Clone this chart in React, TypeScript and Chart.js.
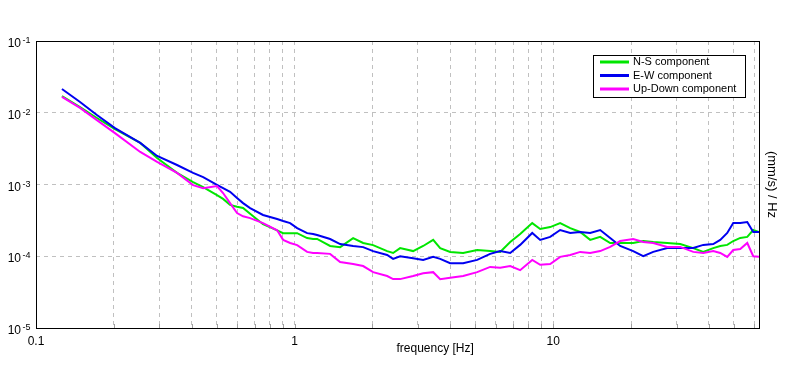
import React, { useEffect, useRef } from 'react';
import { Chart, registerables } from 'chart.js';

Chart.register(...registerables);

const FONT = "'Liberation Sans', Arial, sans-serif";

// Frequencies [Hz] at which the spectra were read
const frequencies = [
  0.126, 0.148, 0.172, 0.202, 0.253, 0.294, 0.351, 0.405, 0.443, 0.501,
  0.529, 0.563, 0.599, 0.632, 0.673, 0.755, 0.856, 0.903, 0.961, 1.023,
  1.118, 1.179, 1.222, 1.372, 1.5, 1.684, 1.841, 2.012, 2.28, 2.404,
  2.559, 2.873, 3.142, 3.435, 3.656, 3.996, 4.485, 5.082, 5.705, 6.237,
  6.82, 7.452, 8.297, 8.907, 9.736, 10.64, 11.64, 12.72, 13.9, 15.2,
  16.61, 18.16, 20.39, 22.29, 24.37, 27.61, 30.99, 34.81, 38.05, 41.59,
  44.26, 47.1, 49.69, 52.89, 56.3, 59.38, 62.5,
];

const nsComponent = [
  1.71e-2, 1.2e-2, 8.45e-3, 5.9e-3, 3.8e-3, 2.34e-3, 1.45e-3, 1.08e-3, 9.2e-4, 7.1e-4,
  6.3e-4, 5.2e-4, 4.9e-4, 4.7e-4, 3.9e-4, 2.8e-4, 2.3e-4, 2.1e-4, 2.1e-4, 2.1e-4,
  1.79e-4, 1.74e-4, 1.74e-4, 1.39e-4, 1.34e-4, 1.79e-4, 1.53e-4, 1.43e-4, 1.18e-4, 1.11e-4,
  1.3e-4, 1.18e-4, 1.39e-4, 1.69e-4, 1.3e-4, 1.15e-4, 1.11e-4, 1.22e-4, 1.18e-4, 1.15e-4,
  1.58e-4, 2.04e-4, 2.9e-4, 2.4e-4, 2.55e-4, 2.9e-4, 2.47e-4, 2.18e-4, 1.69e-4, 1.86e-4,
  1.53e-4, 1.53e-4, 1.53e-4, 1.63e-4, 1.58e-4, 1.53e-4, 1.48e-4, 1.3e-4, 1.15e-4, 1.3e-4,
  1.39e-4, 1.44e-4, 1.63e-4, 1.8e-4, 1.86e-4, 2.32e-4, 2.18e-4,
];

const ewComponent = [
  2.14e-2, 1.41e-2, 9.3e-3, 6.1e-3, 3.8e-3, 2.5e-3, 1.87e-3, 1.45e-3, 1.27e-3, 9.9e-4,
  8.9e-4, 7.9e-4, 6.5e-4, 5.5e-4, 4.7e-4, 3.76e-4, 3.3e-4, 3.1e-4, 2.9e-4, 2.47e-4,
  2.1e-4, 2.04e-4, 1.98e-4, 1.74e-4, 1.48e-4, 1.39e-4, 1.34e-4, 1.18e-4, 1.04e-4, 9.2e-5,
  1.0e-4, 9.4e-5, 8.9e-5, 9.8e-5, 9.2e-5, 8.0e-5, 8.0e-5, 8.9e-5, 1.08e-4, 1.18e-4,
  1.11e-4, 1.44e-4, 2.11e-4, 1.69e-4, 1.86e-4, 2.32e-4, 2.11e-4, 2.18e-4, 2.11e-4, 2.32e-4,
  1.8e-4, 1.39e-4, 1.18e-4, 1.0e-4, 1.15e-4, 1.3e-4, 1.3e-4, 1.3e-4, 1.44e-4, 1.48e-4,
  1.69e-4, 2.11e-4, 2.91e-4, 2.91e-4, 3.0e-4, 2.18e-4, 2.18e-4,
];

const udComponent = [
  1.66e-2, 1.17e-2, 7.9e-3, 5.2e-3, 2.84e-3, 2.06e-3, 1.45e-3, 9.8e-4, 8.9e-4, 9.5e-4,
  7.6e-4, 5.5e-4, 4.0e-4, 3.6e-4, 3.4e-4, 2.9e-4, 2.3e-4, 1.69e-4, 1.53e-4, 1.43e-4,
  1.15e-4, 1.11e-4, 1.11e-4, 1.08e-4, 8.3e-5, 7.8e-5, 7.3e-5, 6.0e-5, 5.3e-5, 4.8e-5,
  4.8e-5, 5.3e-5, 5.8e-5, 6.0e-5, 4.8e-5, 5.0e-5, 5.3e-5, 6.0e-5, 7.1e-5, 6.9e-5,
  7.3e-5, 6.4e-5, 8.9e-5, 7.6e-5, 7.8e-5, 9.8e-5, 1.04e-4, 1.15e-4, 1.11e-4, 1.18e-4,
  1.35e-4, 1.63e-4, 1.74e-4, 1.58e-4, 1.53e-4, 1.35e-4, 1.35e-4, 1.15e-4, 1.11e-4, 1.18e-4,
  1.11e-4, 9.8e-5, 1.22e-4, 1.26e-4, 1.53e-4, 1.0e-4, 9.8e-5,
];

const seriesLabels = ['N-S component', 'E-W component', 'Up-Down component'];
const seriesColors = ['#00e600', '#0000f0', '#ff00ff'];

const xTickValues = [
  0.1, 0.2, 0.3, 0.4, 0.5, 0.6, 0.7, 0.8, 0.9,
  1, 2, 3, 4, 5, 6, 7, 8, 9,
  10, 20, 30, 40, 50, 60,
];
const xMajorTicks = [0.1, 1, 10];
const xMajorLabels = ['0.1', '1', '10'];

const yTickValues = [1e-5, 1e-4, 1e-3, 1e-2, 1e-1];
const yTickBase = '10';
const yTickExponents = ['-5', '-4', '-3', '-2', '-1'];

const xTitle = 'frequency [Hz]';
const yTitle = '(mm/s) / Hz';

const decorPlugin = {
  id: 'decor',
  afterDraw(chart: any) {
    const { ctx, chartArea } = chart;
    const { left, top, right, bottom } = chartArea;
    ctx.save();
    ctx.setLineDash([]);

    // small inner tick marks along the bottom axis
    const xs = chart.scales.x;
    ctx.strokeStyle = '#a0a0a0';
    ctx.lineWidth = 1;
    xTickValues.forEach((v) => {
      if (v === xTickValues[0]) return;
      const px = Math.round(xs.getPixelForValue(v)) + 0.5;
      ctx.beginPath();
      ctx.moveTo(px, bottom - 4);
      ctx.lineTo(px, bottom);
      ctx.stroke();
    });

    // frame
    ctx.strokeStyle = '#000';
    ctx.lineWidth = 1;
    ctx.strokeRect(left + 0.5, top + 0.5, right - left, bottom - top);

    // y tick labels: 10 with superscript exponent
    const ys = chart.scales.y;
    ctx.fillStyle = '#000';
    ctx.textBaseline = 'alphabetic';
    yTickValues.forEach((v, i) => {
      const py = ys.getPixelForValue(v);
      ctx.font = `12px ${FONT}`;
      ctx.textAlign = 'right';
      ctx.fillText(yTickBase, 21, py + 6);
      ctx.font = `9px ${FONT}`;
      ctx.textAlign = 'left';
      ctx.fillText(yTickExponents[i], 22.5, py + 2);
    });

    // x title
    ctx.font = `12px ${FONT}`;
    ctx.textAlign = 'left';
    ctx.textBaseline = 'middle';
    ctx.fillText(xTitle, (left + right) / 2 - 1, 349);

    // legend box
    const bx = 593.5, by = 55.5, bw = 152, bh = 42;
    ctx.fillStyle = '#fff';
    ctx.fillRect(bx, by, bw, bh);
    ctx.strokeStyle = '#000';
    ctx.strokeRect(bx, by, bw, bh);
    ctx.font = `11px ${FONT}`;
    chart.data.datasets.forEach((ds: any, i: number) => {
      const y = 62 + i * 13.5;
      ctx.strokeStyle = ds.borderColor;
      ctx.lineWidth = 3;
      ctx.beginPath();
      ctx.moveTo(600, y);
      ctx.lineTo(629, y);
      ctx.stroke();
      ctx.fillStyle = '#000';
      ctx.fillText(ds.label, 633, y);
    });
    ctx.restore();
  },
};

export default function App() {
  const canvasRef = useRef<HTMLCanvasElement | null>(null);

  useEffect(() => {
    const canvas = canvasRef.current;
    if (!canvas) return;
    Chart.defaults.font.family = FONT;
    const series = [nsComponent, ewComponent, udComponent];
    const chart = new Chart(canvas, {
      type: 'line',
      data: {
        datasets: series.map((vals, i) => ({
          label: seriesLabels[i],
          data: frequencies.map((f, j) => ({ x: f, y: vals[j] })),
          borderColor: seriesColors[i],
          backgroundColor: seriesColors[i],
          borderWidth: 2,
          pointRadius: 0,
          fill: false,
          tension: 0,
          order: 2 - i,
        })),
      },
      options: {
        animation: false,
        responsive: false,
        events: [],
        layout: { padding: { top: 41, left: 0, right: 0, bottom: 0 } },
        plugins: {
          legend: { display: false },
          tooltip: { enabled: false },
        },
        scales: {
          x: {
            type: 'logarithmic',
            position: 'bottom',
            min: 0.1,
            max: 62.5,
            afterBuildTicks: (s: any) => {
              s.ticks = xTickValues.map((v) => ({ value: v }));
            },
            afterFit: (s: any) => {
              s.height = 42;
            },
            ticks: {
              autoSkip: false,
              maxRotation: 0,
              minRotation: 0,
              padding: 6,
              color: '#000',
              font: { family: FONT, size: 12 },
              callback: (v: any) => {
                const k = xMajorTicks.indexOf(Number(v));
                return k >= 0 ? xMajorLabels[k] : '';
              },
            },
            grid: { color: '#c0c0c0', lineWidth: 1, drawTicks: false },
            border: { display: false, dash: [4, 4] },
          },
          y: {
            type: 'logarithmic',
            position: 'left',
            min: 1e-5,
            max: 1e-1,
            afterBuildTicks: (s: any) => {
              s.ticks = yTickValues.map((v) => ({ value: v }));
            },
            afterFit: (s: any) => {
              s.width = 36;
            },
            ticks: {
              display: false,
              autoSkip: false,
            },
            grid: { color: '#c0c0c0', lineWidth: 1, drawTicks: false },
            border: { display: false, dash: [4, 4] },
          },
          y2: {
            type: 'logarithmic',
            position: 'right',
            display: true,
            min: 1e-5,
            max: 1e-1,
            afterFit: (s: any) => {
              s.width = 37;
            },
            ticks: { display: false },
            grid: { display: false, drawTicks: false },
            border: { display: false },
            title: {
              display: true,
              text: yTitle,
              color: '#000',
              font: { family: FONT, size: 13 },
              padding: { top: 17, bottom: 0 },
            },
          },
        },
      } as any,
      plugins: [decorPlugin],
    });
    return () => chart.destroy();
  }, []);

  return (
    <div style={{ position: 'absolute', left: 0, top: 0, width: 796, height: 370, background: '#fff' }}>
      <canvas ref={canvasRef} width={796} height={370} style={{ display: 'block' }} />
    </div>
  );
}
